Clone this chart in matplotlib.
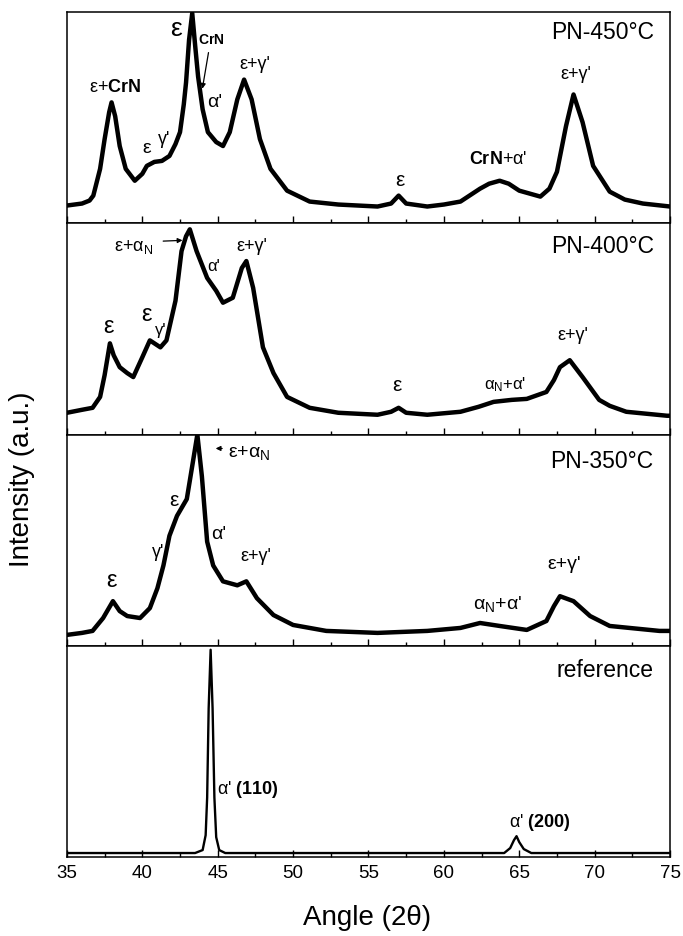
"""Stacked XRD patterns of plasma nitrided samples"""
import matplotlib
matplotlib.use('Agg')
import matplotlib.pyplot as plt

plt.rcParams['font.family'] = ['Liberation Sans', 'DejaVu Sans']
plt.rcParams['mathtext.fontset'] = 'custom'
plt.rcParams['mathtext.rm'] = 'Liberation Sans'
plt.rcParams['mathtext.it'] = 'Liberation Sans:italic'
plt.rcParams['mathtext.bf'] = 'Liberation Sans:bold'

# --- data (angle in deg 2theta, intensity in a.u.) ---
angle_450 = [35.0, 36.0, 36.5, 36.75, 37.2, 37.5, 37.8, 37.96, 38.2, 38.5, 38.9,
             39.5, 40.0, 40.3, 40.8, 41.3, 41.8, 42.2, 42.5, 42.75, 42.9, 43.1,
             43.31, 43.5, 43.7, 44.0, 44.35, 44.9, 45.35, 45.8, 46.3, 46.75,
             47.25, 47.8, 48.5, 49.6, 51.1, 53.0, 55.6, 56.5, 57.0, 57.5, 58.9,
             60.0, 61.1, 62.4, 63.0, 63.7, 64.3, 65.0, 66.4, 67.0, 67.5, 68.1,
             68.6, 69.2, 69.9, 71.0, 72.0, 73.2, 75.0]
int_450 = [18, 20, 23, 28, 55, 85, 112, 122, 108, 78, 55,
           43, 50, 58, 62, 63, 68, 80, 92, 120, 142, 185,
           212, 180, 148, 115, 92, 82, 78, 92, 125, 145,
           125, 85, 55, 33, 22, 19, 17, 20, 28, 20, 17,
           19, 22, 35, 40, 43, 40, 33, 27, 35, 52, 98,
           130, 102, 58, 32, 24, 20, 17]

angle_400 = [35.0, 36.0, 36.7, 37.2, 37.5, 37.85, 38.1, 38.5, 39.0, 39.4, 40.0,
             40.5, 41.2, 41.6, 42.2, 42.6, 42.9, 43.15, 43.6, 44.3, 44.9, 45.35,
             46.0, 46.6, 46.9, 47.35, 48.0, 48.7, 49.6, 51.1, 53.0, 55.6, 56.5,
             57.0, 57.5, 58.9, 61.1, 62.3, 63.3, 64.5, 65.5, 66.8, 67.3, 67.7,
             68.35, 69.2, 70.3, 71.0, 72.1, 74.8, 75.0]
int_400 = [22, 25, 27, 38, 60, 92, 80, 68, 62, 58, 78,
           95, 88, 95, 135, 185, 200, 207, 185, 158, 145, 133,
           138, 168, 175, 148, 88, 62, 38, 27, 22, 20, 23,
           27, 22, 20, 23, 28, 33, 35, 36, 43, 55, 68,
           75, 58, 35, 29, 23, 19, 19]

angle_350 = [35.0, 36.0, 36.7, 37.4, 38.05, 38.5, 39.0, 39.85, 40.5, 41.0, 41.4,
             41.8, 42.3, 42.95, 43.35, 43.65, 43.95, 44.3, 44.7, 45.35, 46.3,
             46.9, 47.6, 48.7, 50.0, 52.2, 55.6, 58.9, 61.1, 62.4, 63.7, 65.5,
             66.8, 67.3, 67.7, 68.6, 69.7, 71.0, 74.3, 75.0]
int_350 = [11, 13, 15, 28, 45, 35, 30, 28, 38, 58, 81,
           111, 131, 148, 185, 213, 171, 105, 81, 65, 61,
           65, 48, 31, 21, 15, 13, 15, 18, 23, 20, 16,
           25, 40, 50, 45, 30, 20, 15, 15]

angle_ref = [35.0, 43.5, 44.0, 44.2, 44.3, 44.4, 44.53, 44.66, 44.78, 44.9,
             45.1, 45.5, 64.0, 64.4, 64.65, 64.82, 65.0, 65.3, 65.8, 75.0]
int_ref = [4, 4, 7, 22, 60, 150, 209, 150, 60, 20,
           7, 4, 4, 9, 17, 21, 15, 8, 4, 4]

panel_names = ['PN-450°C', 'PN-400°C', 'PN-350°C', 'reference']
x_ticks = [35, 40, 45, 50, 55, 60, 65, 70, 75]

EPS = 'ε'
ALN = r'α$_\mathrm{N}$'

# annotations per panel: (text, angle, intensity, size)
notes_450 = [
    (EPS + r'+$\mathbf{CrN}$', 38.18, 137, 13),
    (EPS, 42.23, 196, 19),
    (r'$\mathbf{CrN}$', 44.6, 185, 10),
    ("α'", 44.81, 122, 14),
    (EPS + "+γ'", 47.47, 160, 13),
    (EPS, 40.3, 76, 14),
    ("γ'", 41.43, 85, 13),
    (EPS, 57.08, 43, 15),
    (r"$\mathbf{CrN}$+α'", 63.58, 64, 13),
    (EPS + "+γ'", 68.75, 150, 13),
]
notes_400 = [
    (EPS + '+' + ALN, 39.44, 189, 13),
    ("α'", 44.75, 170, 12),
    (EPS + "+γ'", 47.27, 190, 13),
    (EPS, 37.79, 108, 17),
    (EPS, 40.3, 121, 17),
    ("γ'", 41.23, 105, 12),
    (EPS, 56.88, 49, 15),
    (ALN + "+α'", 64.05, 50, 12),
    (EPS + "+γ'", 68.55, 100, 13),
]
notes_350 = [
    (EPS, 42.1, 147, 15),
    ("γ'", 41.03, 94, 13),
    ("α'", 45.08, 112, 14),
    (EPS + "+γ'", 47.53, 90, 13),
    (EPS, 37.98, 65, 17),
    (ALN + "+α'", 63.58, 42, 14),
    (EPS + "+γ'", 67.96, 82, 14),
]
notes_ref = [
    (r"α' $\mathbf{(200)}$", 66.37, 35, 13),
]

fig, axes = plt.subplots(4, 1, figsize=(6.83, 9.36), dpi=100, sharex=True)
fig.subplots_adjust(left=0.098, right=0.981, bottom=0.0844, top=0.987, hspace=0)

series = [(angle_450, int_450, 3.2), (angle_400, int_400, 3.2),
          (angle_350, int_350, 3.2), (angle_ref, int_ref, 1.7)]
notes = [notes_450, notes_400, notes_350, notes_ref]
label_y = [0.906, 0.89, 0.873, 0.885]

for ax, (xs, ys, lw), name, nn, ly in zip(axes, series, panel_names, notes, label_y):
    ax.plot(xs, ys, color='black', linewidth=lw, solid_joinstyle='round')
    ax.set_xlim(35, 75)
    ax.set_ylim(0, 213)
    ax.set_yticks([])
    ax.set_xticks(x_ticks)
    ax.set_xticks([37.5 + 5 * i for i in range(8)], minor=True)
    ax.tick_params(axis='x', which='major', direction='in', length=5, width=1,
                   labelsize=13.5, pad=6)
    ax.tick_params(axis='x', which='minor', direction='in', length=3, width=1)
    for sp in ax.spines.values():
        sp.set_linewidth(1.1)
    ax.text(0.973, ly, name, transform=ax.transAxes, ha='right', va='center',
            fontsize=16.5)
    for txt, xa, ya, fs in nn:
        ax.text(xa, ya, txt, ha='center', va='center', fontsize=fs)

# arrows and left aligned labels
axes[0].annotate('', xy=(43.95, 133), xytext=(44.42, 175),
                 arrowprops=dict(arrowstyle='-|>', color='black', lw=0.9,
                                 mutation_scale=7))
axes[1].annotate('', xy=(42.85, 196), xytext=(41.2, 195),
                 arrowprops=dict(arrowstyle='-|>', color='black', lw=0.9,
                                 mutation_scale=7))
axes[2].annotate('', xy=(44.68, 199), xytext=(45.48, 199),
                 arrowprops=dict(arrowstyle='-|>', color='black', lw=0.9,
                                 mutation_scale=7))
axes[2].text(45.68, 194, EPS + '+' + ALN, ha='left', va='center', fontsize=14)
axes[3].text(44.95, 68, r"α' $\mathbf{(110)}$", ha='left', va='center', fontsize=13)

for ax in axes[:-1]:
    ax.tick_params(axis='x', labelbottom=False)

fig.text(0.032, 0.488, 'Intensity (a.u.)', rotation=90, ha='center', va='center',
         fontsize=20)
fig.text(0.537, 0.019, 'Angle (2θ)', ha='center', va='center', fontsize=20)

fig.savefig('out.png', dpi=100)
